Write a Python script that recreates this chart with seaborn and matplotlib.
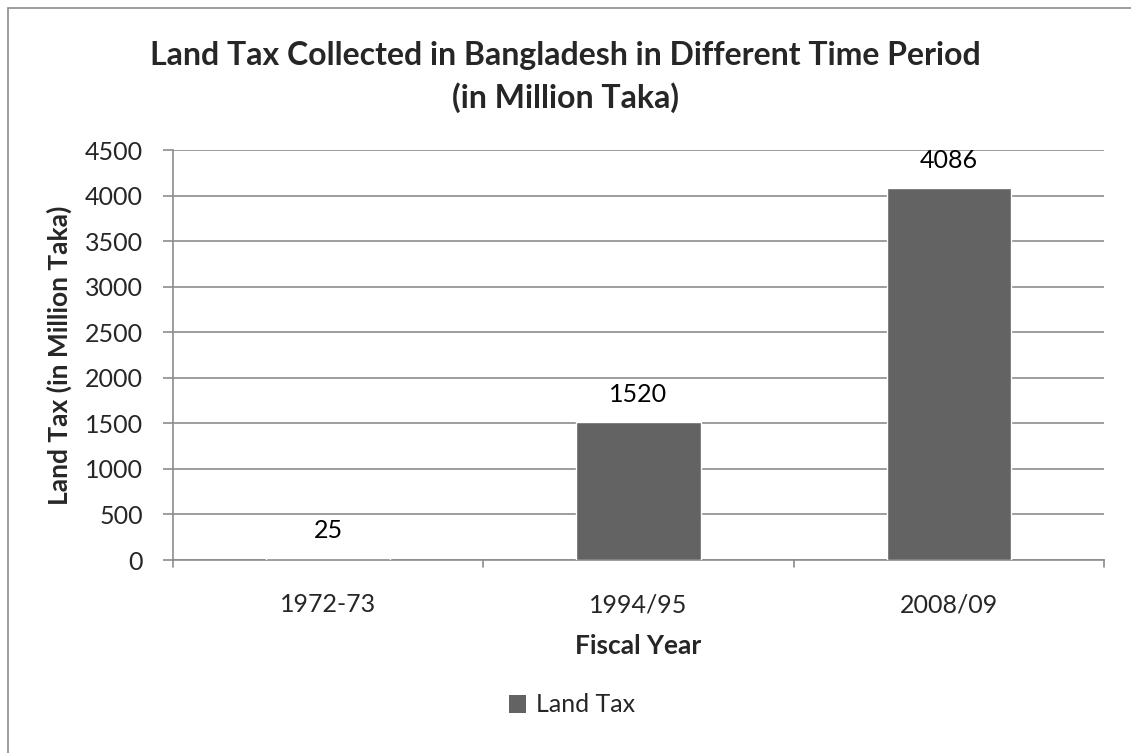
import matplotlib
matplotlib.use("Agg")
import matplotlib.pyplot as plt
import seaborn as sns
import pandas as pd
from matplotlib.patches import Patch
from matplotlib.lines import Line2D

years = ["1972-73", "1994/95", "2008/09"]
land_tax = [25, 1520, 4086]
yticks = [0, 500, 1000, 1500, 2000, 2500, 3000, 3500, 4000, 4500]

df = pd.DataFrame({"Fiscal Year": years, "Land Tax": land_tax})

sns.set_style("white")
plt.rcParams["font.family"] = ["Lato", "DejaVu Sans"]

W, H = 1131, 753
fig = plt.figure(figsize=(W / 100, H / 100), dpi=100)
ax = fig.add_axes([173 / W, 1 - 560 / H, (1104 - 173) / W, (560 - 150) / H])

bar_color = "#636363"
sns.barplot(data=df, x="Fiscal Year", y="Land Tax", color=bar_color, width=0.4,
            saturation=1, ax=ax, zorder=3)

ax.set_ylim(0, 4500)
ax.set_xlim(-0.5, 2.5)
ax.set_yticks(yticks)
ax.set_yticklabels([str(v) for v in yticks], fontsize=18)
ax.grid(axis="y", color="#8c8c8c", linewidth=1.2, zorder=0)
ax.grid(axis="x", visible=False)
for s in ["top", "right"]:
    ax.spines[s].set_visible(False)
for s in ["left", "bottom"]:
    ax.spines[s].set_color("#8c8c8c")
    ax.spines[s].set_linewidth(1.2)

ax.tick_params(axis="y", length=7.5, width=1.2, color="#8c8c8c", pad=14, left=True)
ax.tick_params(axis="x", length=0, pad=24, labelsize=18)
# category boundary tick marks
for xb in [-0.5, 0.5, 1.5, 2.5]:
    ax.plot([xb, xb], [0, -0.018 * 4500], color="#8c8c8c", lw=1.2, clip_on=False, zorder=4)

for i, v in enumerate(land_tax):
    ax.text(i, v + 175, str(v), ha="center", va="bottom", fontsize=18, color="black")

ax.set_xlabel("Fiscal Year", fontsize=19, fontweight="bold", labelpad=13)
ax.set_ylabel("Land Tax (in Million Taka)", fontsize=19, fontweight="bold")
ax.yaxis.set_label_coords((72 - 173) / (1104 - 173), 0.5)

fig.text(0.5, 1 - 77 / H, "Land Tax Collected in Bangladesh in Different Time Period\n(in Million Taka)",
         ha="center", va="center", fontsize=23, fontweight="bold", linespacing=1.45)

handles = [Patch(facecolor=bar_color, edgecolor="none", label="Land Tax")]
fig.legend(handles=handles, loc="center", bbox_to_anchor=(572 / W, 1 - 705 / H), frameon=False,
           fontsize=18, handlelength=0.7, handleheight=0.7, handletextpad=0.4)

# chart area border (left and top visible)
fig.add_artist(Line2D([8 / W, 8 / W], [0, 1 - 8 / H], color="#8c8c8c", lw=1.2))
fig.add_artist(Line2D([8 / W, 1], [1 - 8 / H, 1 - 8 / H], color="#8c8c8c", lw=1.2))

fig.savefig("out.png", dpi=100)
